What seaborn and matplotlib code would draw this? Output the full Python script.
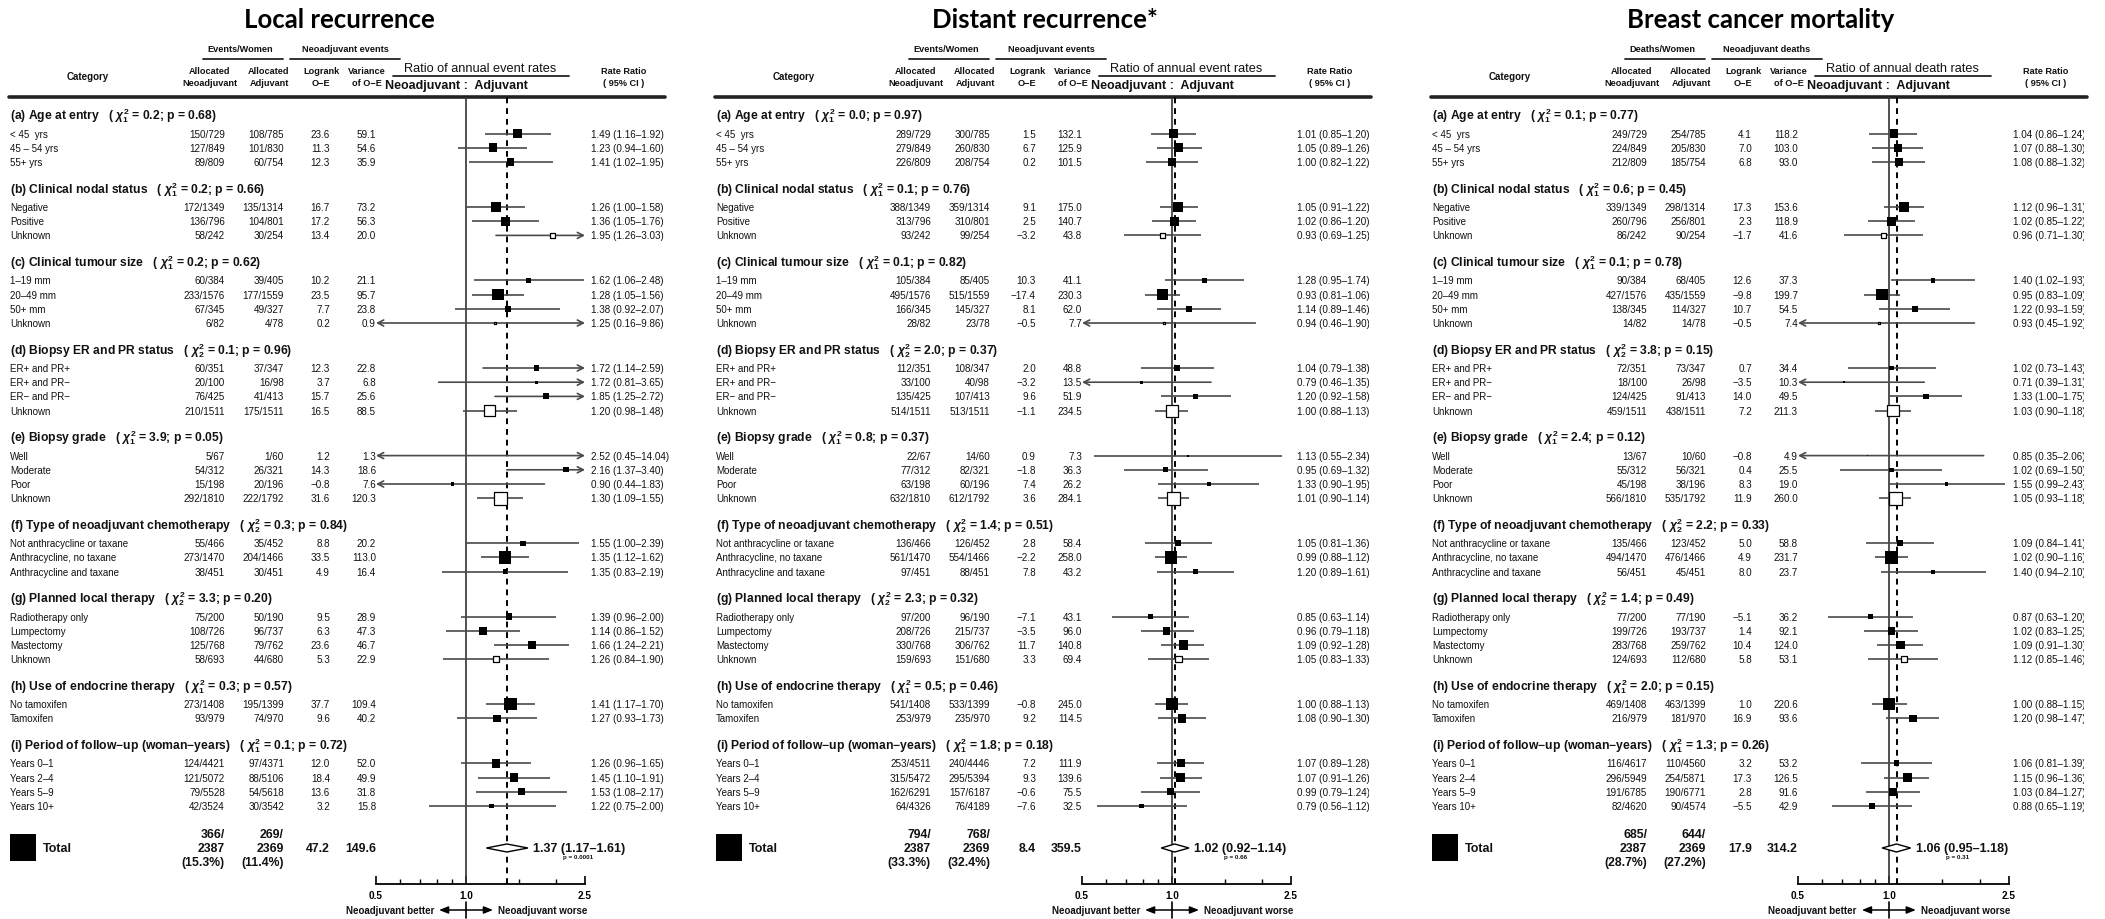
import numpy as np
import pandas as pd
import matplotlib
matplotlib.use("Agg")
import matplotlib.pyplot as plt
import seaborn as sns
from matplotlib.patches import Rectangle
from matplotlib.ticker import FixedLocator, FixedFormatter, NullFormatter
from matplotlib.transforms import Bbox, blended_transform_factory, offset_copy

# ---------------- shared row structure ----------------
group_titles = ["(a) Age at entry", "(b) Clinical nodal status", "(c) Clinical tumour size",
                "(d) Biopsy ER and PR status", "(e) Biopsy grade",
                "(f) Type of neoadjuvant chemotherapy", "(g) Planned local therapy",
                "(h) Use of endocrine therapy", "(i) Period of follow\u2212up (woman\u2212years)"]
group_df = [1, 1, 1, 2, 1, 2, 2, 1, 1]
group_rows = [
    ["< 45  yrs", "45 \u2013 54 yrs", "55+ yrs"],
    ["Negative", "Positive", "Unknown"],
    ["1\u201319 mm", "20\u201349 mm", "50+ mm", "Unknown"],
    ["ER+ and PR+", "ER+ and PR\u2212", "ER\u2212 and PR\u2212", "Unknown"],
    ["Well", "Moderate", "Poor", "Unknown"],
    ["Not anthracycline or taxane", "Anthracycline, no taxane", "Anthracycline and taxane"],
    ["Radiotherapy only", "Lumpectomy", "Mastectomy", "Unknown"],
    ["No tamoxifen", "Tamoxifen"],
    ["Years 0\u20131", "Years 2\u20134", "Years 5\u20139", "Years 10+"],
]

# ---------------- Local recurrence ----------------
local_neo = ["150/729", "127/849", "89/809", "172/1349", "136/796", "58/242", "60/384", "233/1576",
             "67/345", "6/82", "60/351", "20/100", "76/425", "210/1511", "5/67", "54/312", "15/198",
             "292/1810", "55/466", "273/1470", "38/451", "75/200", "108/726", "125/768", "58/693",
             "273/1408", "93/979", "124/4421", "121/5072", "79/5528", "42/3524"]
local_adj = ["108/785", "101/830", "60/754", "135/1314", "104/801", "30/254", "39/405", "177/1559",
             "49/327", "4/78", "37/347", "16/98", "41/413", "175/1511", "1/60", "26/321", "20/196",
             "222/1792", "35/452", "204/1466", "30/451", "50/190", "96/737", "79/762", "44/680",
             "195/1399", "74/970", "97/4371", "88/5106", "54/5618", "30/3542"]
local_oe = [23.6, 11.3, 12.3, 16.7, 17.2, 13.4, 10.2, 23.5, 7.7, 0.2, 12.3, 3.7, 15.7, 16.5, 1.2,
            14.3, -0.8, 31.6, 8.8, 33.5, 4.9, 9.5, 6.3, 23.6, 5.3, 37.7, 9.6, 12.0, 18.4, 13.6, 3.2]
local_var = [59.1, 54.6, 35.9, 73.2, 56.3, 20.0, 21.1, 95.7, 23.8, 0.9, 22.8, 6.8, 25.6, 88.5, 1.3,
             18.6, 7.6, 120.3, 20.2, 113.0, 16.4, 28.9, 47.3, 46.7, 22.9, 109.4, 40.2, 52.0, 49.9,
             31.8, 15.8]
local_rr = [1.49, 1.23, 1.41, 1.26, 1.36, 1.95, 1.62, 1.28, 1.38, 1.25, 1.72, 1.72, 1.85, 1.20, 2.52,
            2.16, 0.90, 1.30, 1.55, 1.35, 1.35, 1.39, 1.14, 1.66, 1.26, 1.41, 1.27, 1.26, 1.45, 1.53,
            1.22]
local_lo = [1.16, 0.94, 1.02, 1.00, 1.05, 1.26, 1.06, 1.05, 0.92, 0.16, 1.14, 0.81, 1.25, 0.98, 0.45,
            1.37, 0.44, 1.09, 1.00, 1.12, 0.83, 0.96, 0.86, 1.24, 0.84, 1.17, 0.93, 0.96, 1.10, 1.08,
            0.75]
local_hi = [1.92, 1.60, 1.95, 1.58, 1.76, 3.03, 2.48, 1.56, 2.07, 9.86, 2.59, 3.65, 2.72, 1.48, 14.04,
            3.40, 1.83, 1.55, 2.39, 1.62, 2.19, 2.00, 1.52, 2.21, 1.90, 1.70, 1.73, 1.65, 1.91, 2.17,
            2.00]
local_chi = ["0.2", "0.2", "0.2", "0.1", "3.9", "0.3", "3.3", "0.3", "0.1"]
local_p = ["0.68", "0.66", "0.62", "0.96", "0.05", "0.84", "0.20", "0.57", "0.72"]
local_tot_events = [366, 269]
local_tot_women = [2387, 2369]
local_tot_oe, local_tot_var = 47.2, 149.6
local_tot_rr = [1.37, 1.17, 1.61]
local_tot_p = "0.0001"

# ---------------- Distant recurrence ----------------
dist_neo = ["289/729", "279/849", "226/809", "388/1349", "313/796", "93/242", "105/384", "495/1576",
            "166/345", "28/82", "112/351", "33/100", "135/425", "514/1511", "22/67", "77/312",
            "63/198", "632/1810", "136/466", "561/1470", "97/451", "97/200", "208/726", "330/768",
            "159/693", "541/1408", "253/979", "253/4511", "315/5472", "162/6291", "64/4326"]
dist_adj = ["300/785", "260/830", "208/754", "359/1314", "310/801", "99/254", "85/405", "515/1559",
            "145/327", "23/78", "108/347", "40/98", "107/413", "513/1511", "14/60", "82/321",
            "60/196", "612/1792", "126/452", "554/1466", "88/451", "96/190", "215/737", "306/762",
            "151/680", "533/1399", "235/970", "240/4446", "295/5394", "157/6187", "76/4189"]
dist_oe = [1.5, 6.7, 0.2, 9.1, 2.5, -3.2, 10.3, -17.4, 8.1, -0.5, 2.0, -3.2, 9.6, -1.1, 0.9, -1.8,
           7.4, 3.6, 2.8, -2.2, 7.8, -7.1, -3.5, 11.7, 3.3, -0.8, 9.2, 7.2, 9.3, -0.6, -7.6]
dist_var = [132.1, 125.9, 101.5, 175.0, 140.7, 43.8, 41.1, 230.3, 62.0, 7.7, 48.8, 13.5, 51.9, 234.5,
            7.3, 36.3, 26.2, 284.1, 58.4, 258.0, 43.2, 43.1, 96.0, 140.8, 69.4, 245.0, 114.5, 111.9,
            139.6, 75.5, 32.5]
dist_rr = [1.01, 1.05, 1.00, 1.05, 1.02, 0.93, 1.28, 0.93, 1.14, 0.94, 1.04, 0.79, 1.20, 1.00, 1.13,
           0.95, 1.33, 1.01, 1.05, 0.99, 1.20, 0.85, 0.96, 1.09, 1.05, 1.00, 1.08, 1.07, 1.07, 0.99,
           0.79]
dist_lo = [0.85, 0.89, 0.82, 0.91, 0.86, 0.69, 0.95, 0.81, 0.89, 0.46, 0.79, 0.46, 0.92, 0.88, 0.55,
           0.69, 0.90, 0.90, 0.81, 0.88, 0.89, 0.63, 0.79, 0.92, 0.83, 0.88, 0.90, 0.89, 0.91, 0.79,
           0.56]
dist_hi = [1.20, 1.26, 1.22, 1.22, 1.20, 1.25, 1.74, 1.06, 1.46, 1.90, 1.38, 1.35, 1.58, 1.13, 2.34,
           1.32, 1.95, 1.14, 1.36, 1.12, 1.61, 1.14, 1.18, 1.28, 1.33, 1.13, 1.30, 1.28, 1.26, 1.24,
           1.12]
dist_chi = ["0.0", "0.1", "0.1", "2.0", "0.8", "1.4", "2.3", "0.5", "1.8"]
dist_p = ["0.97", "0.76", "0.82", "0.37", "0.37", "0.51", "0.32", "0.46", "0.18"]
dist_tot_events = [794, 768]
dist_tot_women = [2387, 2369]
dist_tot_oe, dist_tot_var = 8.4, 359.5
dist_tot_rr = [1.02, 0.92, 1.14]
dist_tot_p = "0.66"

# ---------------- Breast cancer mortality ----------------
mort_neo = ["249/729", "224/849", "212/809", "339/1349", "260/796", "86/242", "90/384", "427/1576",
            "138/345", "14/82", "72/351", "18/100", "124/425", "459/1511", "13/67", "55/312",
            "45/198", "566/1810", "135/466", "494/1470", "56/451", "77/200", "199/726", "283/768",
            "124/693", "469/1408", "216/979", "116/4617", "296/5949", "191/6785", "82/4620"]
mort_adj = ["254/785", "205/830", "185/754", "298/1314", "256/801", "90/254", "68/405", "435/1559",
            "114/327", "14/78", "73/347", "26/98", "91/413", "438/1511", "10/60", "56/321",
            "38/196", "535/1792", "123/452", "476/1466", "45/451", "77/190", "193/737", "259/762",
            "112/680", "463/1399", "181/970", "110/4560", "254/5871", "190/6771", "90/4574"]
mort_oe = [4.1, 7.0, 6.8, 17.3, 2.3, -1.7, 12.6, -9.8, 10.7, -0.5, 0.7, -3.5, 14.0, 7.2, -0.8, 0.4,
           8.3, 11.9, 5.0, 4.9, 8.0, -5.1, 1.4, 10.4, 5.8, 1.0, 16.9, 3.2, 17.3, 2.8, -5.5]
mort_var = [118.2, 103.0, 93.0, 153.6, 118.9, 41.6, 37.3, 199.7, 54.5, 7.4, 34.4, 10.3, 49.5, 211.3,
            4.9, 25.5, 19.0, 260.0, 58.8, 231.7, 23.7, 36.2, 92.1, 124.0, 53.1, 220.6, 93.6, 53.2,
            126.5, 91.6, 42.9]
mort_rr = [1.04, 1.07, 1.08, 1.12, 1.02, 0.96, 1.40, 0.95, 1.22, 0.93, 1.02, 0.71, 1.33, 1.03, 0.85,
           1.02, 1.55, 1.05, 1.09, 1.02, 1.40, 0.87, 1.02, 1.09, 1.12, 1.00, 1.20, 1.06, 1.15, 1.03,
           0.88]
mort_lo = [0.86, 0.88, 0.88, 0.96, 0.85, 0.71, 1.02, 0.83, 0.93, 0.45, 0.73, 0.39, 1.00, 0.90, 0.35,
           0.69, 0.99, 0.93, 0.84, 0.90, 0.94, 0.63, 0.83, 0.91, 0.85, 0.88, 0.98, 0.81, 0.96, 0.84,
           0.65]
mort_hi = [1.24, 1.30, 1.32, 1.31, 1.22, 1.30, 1.93, 1.09, 1.59, 1.92, 1.43, 1.31, 1.75, 1.18, 2.06,
           1.50, 2.43, 1.18, 1.41, 1.16, 2.10, 1.20, 1.25, 1.30, 1.46, 1.15, 1.47, 1.39, 1.36, 1.27,
           1.19]
mort_chi = ["0.1", "0.6", "0.1", "3.8", "2.4", "2.2", "1.4", "2.0", "1.3"]
mort_p = ["0.77", "0.45", "0.78", "0.15", "0.12", "0.33", "0.49", "0.15", "0.26"]
mort_tot_events = [685, 644]
mort_tot_women = [2387, 2369]
mort_tot_oe, mort_tot_var = 17.9, 314.2
mort_tot_rr = [1.06, 0.95, 1.18]
mort_tot_p = "0.31"

panels = [
    dict(title="Local recurrence", count_head="Events/Women", oe_head="Neoadjuvant events",
         ratio_head="Ratio of annual event rates", dx=0, clip=670,
         neo=local_neo, adj=local_adj, oe=local_oe, var=local_var, rr=local_rr, lo=local_lo,
         hi=local_hi, chi=local_chi, p=local_p, tot_events=local_tot_events,
         tot_women=local_tot_women, tot_oe=local_tot_oe, tot_var=local_tot_var,
         tot_rr=local_tot_rr, tot_p=local_tot_p),
    dict(title="Distant recurrence*", count_head="Events/Women", oe_head="Neoadjuvant events",
         ratio_head="Ratio of annual event rates", dx=706, clip=1369,
         neo=dist_neo, adj=dist_adj, oe=dist_oe, var=dist_var, rr=dist_rr, lo=dist_lo,
         hi=dist_hi, chi=dist_chi, p=dist_p, tot_events=dist_tot_events,
         tot_women=dist_tot_women, tot_oe=dist_tot_oe, tot_var=dist_tot_var,
         tot_rr=dist_tot_rr, tot_p=dist_tot_p),
    dict(title="Breast cancer mortality", count_head="Deaths/Women", oe_head="Neoadjuvant deaths",
         ratio_head="Ratio of annual death rates", dx=1422, clip=2084,
         neo=mort_neo, adj=mort_adj, oe=mort_oe, var=mort_var, rr=mort_rr, lo=mort_lo,
         hi=mort_hi, chi=mort_chi, p=mort_p, tot_events=mort_tot_events,
         tot_women=mort_tot_women, tot_oe=mort_tot_oe, tot_var=mort_tot_var,
         tot_rr=mort_tot_rr, tot_p=mort_tot_p),
]

# ---------------- style ----------------
sns.set_theme(style="white")
FONT = ["Liberation Sans", "DejaVu Sans"]
plt.rcParams["font.family"] = FONT
plt.rcParams["mathtext.fontset"] = "custom"
plt.rcParams["mathtext.rm"] = "Liberation Sans:bold"
plt.rcParams["mathtext.it"] = "Liberation Sans:italic:bold"
plt.rcParams["mathtext.bf"] = "Liberation Sans:bold"
TXT = "#111111"
CI_COLOR = "#4a4a4a"

W, H = 2105, 920
fig = plt.figure(figsize=(W / 100, H / 100), dpi=100)
fig.patch.set_facecolor("white")
canvas = fig.add_axes([0, 0, 1, 1])
canvas.set_xlim(0, W)
canvas.set_ylim(H, 0)
canvas.axis("off")


def px_axes(x0, x1, y0, y1):
    return fig.add_axes([x0 / W, 1 - y1 / H, (x1 - x0) / W, (y1 - y0) / H])


# vertical layout of the table rows (pixel rows)
head_y, row_y = [], []
y = 116.0
for rows in group_rows:
    head_y.append(y)
    y += 18.6
    for _ in rows:
        row_y.append(y)
        y += 14.2
    y = row_y[-1] + 26.4
total_y = 849.0
axis_top, axis_bottom = 98, 885
is_unknown = np.array([lab == "Unknown" for rows in group_rows for lab in rows])


def fmt_signed(v):
    return f"{v:.1f}".replace("-", "\u2212")


def T(x, y, s, **kw):
    kw.setdefault("va", "center")
    kw.setdefault("color", TXT)
    return canvas.text(x, y, s, **kw)


for spec in panels:
    dx = spec["dx"]
    # ---- titles and column headings ----
    T(339 + dx, 20, spec["title"], ha="center", fontsize=18.5, fontweight="bold",
      family=["Lato", "DejaVu Sans"], color="black")
    T(240 + dx, 50, spec["count_head"], ha="center", fontsize=6.6, fontweight="bold")
    canvas.plot([203 + dx, 283 + dx], [60, 60], color="#222222", lw=1.3)
    T(345 + dx, 50, spec["oe_head"], ha="center", fontsize=6.6, fontweight="bold")
    canvas.plot([290 + dx, 400 + dx], [60, 60], color="#222222", lw=1.3)
    T(88 + dx, 77, "Category", ha="center", fontsize=7.0, fontweight="bold")
    for cx, l1, l2 in [(210, "Allocated", "Neoadjuvant"), (269, "Allocated", "Adjuvant"),
                       (321, "Logrank", "O\u2212E"), (367, "Variance", "of O\u2212E"),
                       (624, "Rate Ratio", "( 95% CI )")]:
        T(cx + dx, 71, l1, ha="center", fontsize=6.6, fontweight="bold")
        T(cx + dx, 83, l2, ha="center", fontsize=6.6, fontweight="bold")
    T(480 + dx, 69, spec["ratio_head"], ha="center", fontsize=9.2)
    canvas.plot([393 + dx, 569 + dx], [77, 77], color="#222222", lw=1.3)
    T(456 + dx, 86, "Neoadjuvant :  Adjuvant", ha="center", fontsize=9.0, fontweight="bold")
    canvas.plot([9 + dx, 665 + dx], [axis_top, axis_top], color="#222222", lw=2.6)

    clip_box = Bbox([[dx, 0], [spec["clip"], H]])

    # ---- table body ----
    k = 0
    for g, rows in enumerate(group_rows):
        T(10 + dx, head_y[g],
          f"{group_titles[g]}   ( $\\chi^2_{{{group_df[g]}}}$ = {spec['chi'][g]}; "
          f"p = {spec['p'][g]})",
          ha="left", fontsize=8.7, fontweight="bold")
        for lab in rows:
            yy = row_y[k]
            T(10 + dx, yy, lab, ha="left", fontsize=7.0)
            T(225 + dx, yy, spec["neo"][k], ha="right", fontsize=7.1)
            T(284 + dx, yy, spec["adj"][k], ha="right", fontsize=7.1)
            T(330 + dx, yy, fmt_signed(spec["oe"][k]), ha="right", fontsize=7.1)
            T(376 + dx, yy, f"{spec['var'][k]:.1f}", ha="right", fontsize=7.1)
            t = T(591 + dx, yy,
                  f"{spec['rr'][k]:.2f} ({spec['lo'][k]:.2f}\u2013{spec['hi'][k]:.2f})",
                  ha="left", fontsize=7.1)
            t.set_clip_on(True)
            t.set_clip_box(clip_box)
            k += 1

    # ---- total row ----
    canvas.add_patch(Rectangle((10 + dx, 835), 26, 27, facecolor="black", edgecolor="none"))
    T(43 + dx, total_y, "Total", ha="left", fontsize=9.0, fontweight="bold")
    for cx, ev, wn in [(225, spec["tot_events"][0], spec["tot_women"][0]),
                       (284, spec["tot_events"][1], spec["tot_women"][1])]:
        T(cx + dx, total_y - 14, f"{ev}/", ha="right", fontsize=8.8, fontweight="bold")
        T(cx + dx, total_y, f"{wn}", ha="right", fontsize=8.8, fontweight="bold")
        T(cx + dx, total_y + 14, f"({100 * ev / wn:.1f}%)", ha="right", fontsize=8.8,
          fontweight="bold")
    T(330 + dx, total_y, fmt_signed(spec["tot_oe"]), ha="right", fontsize=8.8, fontweight="bold")
    T(376 + dx, total_y, f"{spec['tot_var']:.1f}", ha="right", fontsize=8.8, fontweight="bold")

    # ---- forest plot ----
    ax = px_axes(376 + dx, 585 + dx + (2 if dx > 1000 else 0), axis_top, axis_bottom)
    ax.set_facecolor("none")
    rr = np.array(spec["rr"])
    lo = np.array(spec["lo"])
    hi = np.array(spec["hi"])
    var = np.array(spec["var"])
    side = np.maximum(13.0 * np.sqrt(var / var.max()), 1.6)
    frame = pd.DataFrame({"rr": rr, "y": row_y, "s": (side * 0.72) ** 2, "unknown": is_unknown})
    filled = frame[~frame["unknown"]]
    opened = frame[frame["unknown"]]
    sns.scatterplot(data=filled, x="rr", y="y", marker="s", s=filled["s"].to_numpy(),
                    color="black", edgecolor="black", linewidth=0, legend=False, ax=ax, zorder=4)
    sns.scatterplot(data=opened, x="rr", y="y", marker="s", s=opened["s"].to_numpy(),
                    color="white", edgecolor="black", linewidth=0.9, legend=False, ax=ax, zorder=4)
    ax.set_xscale("log")
    ax.set_xlim(0.5, 2.5)
    ax.set_ylim(axis_bottom, axis_top)
    ax.set_xlabel("")
    ax.set_ylabel("")

    lo_c = np.clip(lo, 0.5, 2.5)
    hi_c = np.clip(hi, 0.5, 2.5)
    for yy, a, b, l0, h0 in zip(row_y, lo_c, hi_c, lo, hi):
        left_arrow, right_arrow = l0 < 0.5, h0 > 2.5
        if left_arrow or right_arrow:
            style = "<->" if (left_arrow and right_arrow) else ("<-" if left_arrow else "->")
            ax.annotate("", xy=(b, yy), xytext=(a, yy), annotation_clip=False,
                        arrowprops=dict(arrowstyle=style + ",head_length=0.35,head_width=0.18",
                                        color=CI_COLOR, lw=1.2, shrinkA=0, shrinkB=0), zorder=2)
        else:
            ax.plot([a, b], [yy, yy], color=CI_COLOR, lw=1.2, zorder=2, solid_capstyle="butt")

    t_rr, t_lo, t_hi = spec["tot_rr"]
    ax.axvline(1.0, color="#333333", lw=1.2, zorder=1)
    ax.axvline(t_rr, color="black", lw=1.4, ls=(0, (3, 2.5)), zorder=1)
    ax.fill([t_lo, t_rr, t_hi, t_rr], [total_y, total_y - 4, total_y, total_y + 4],
            facecolor="white", edgecolor="black", lw=1.0, zorder=5)
    ax.annotate(f"{t_rr:.2f} ({t_lo:.2f}\u2013{t_hi:.2f})", xy=(t_hi, total_y), xytext=(5, 0),
                textcoords="offset pixels", ha="left", va="center", fontsize=9.0,
                fontweight="bold", color=TXT, annotation_clip=False)
    ax.annotate(f"p = {spec['tot_p']}", xy=(t_hi, total_y), xytext=(35, -9),
                textcoords="offset pixels", ha="left", va="center", fontsize=4.5,
                fontweight="bold", color=TXT, annotation_clip=False)

    # log axis with ticks pointing up
    ax.xaxis.set_major_locator(FixedLocator([0.5, 1.0, 2.5]))
    ax.xaxis.set_major_formatter(FixedFormatter(["0.5", "1.0", "2.5"]))
    ax.xaxis.set_minor_locator(FixedLocator([0.6, 0.7, 0.8, 0.9, 1.5, 2.0]))
    ax.xaxis.set_minor_formatter(NullFormatter())
    ax.set_yticks([])
    for sp in ["top", "left", "right"]:
        ax.spines[sp].set_visible(False)
    ax.spines["bottom"].set_color("black")
    ax.spines["bottom"].set_linewidth(1.3)
    ax.tick_params(axis="x", which="major", direction="in", length=5.5, width=1.2,
                   labelsize=7.2, pad=4, bottom=True, colors="black")
    ax.tick_params(axis="x", which="minor", direction="in", length=3.6, width=1.0, bottom=True,
                   colors="black")
    for lbl in ax.get_xticklabels():
        lbl.set_fontweight("bold")

    # direction key below the axis
    blend = blended_transform_factory(ax.transData, canvas.transData)
    ax.text(1.0, 911, "Neoadjuvant better", transform=offset_copy(blend, fig=fig, x=-32, y=0,
                                                                 units="dots"),
            ha="right", va="center", fontsize=7.0, fontweight="bold", color=TXT, clip_on=False)
    ax.text(1.0, 911, "Neoadjuvant worse", transform=offset_copy(blend, fig=fig, x=32, y=0,
                                                                units="dots"),
            ha="left", va="center", fontsize=7.0, fontweight="bold", color=TXT, clip_on=False)
    for off in (-27, 27):
        ax.annotate("", xy=(1.0, 911), xycoords=offset_copy(blend, fig=fig, x=off, y=0,
                                                            units="dots"),
                    xytext=(1.0, 911), textcoords=blend, annotation_clip=False,
                    arrowprops=dict(arrowstyle="-|>,head_length=0.45,head_width=0.18",
                                    color="black", lw=1.1, shrinkA=0, shrinkB=0))
    ax.plot([1.0, 1.0], [903, 919], transform=blend, color="black", lw=1.2, clip_on=False)

fig.savefig("out.png", dpi=100, facecolor="white")
